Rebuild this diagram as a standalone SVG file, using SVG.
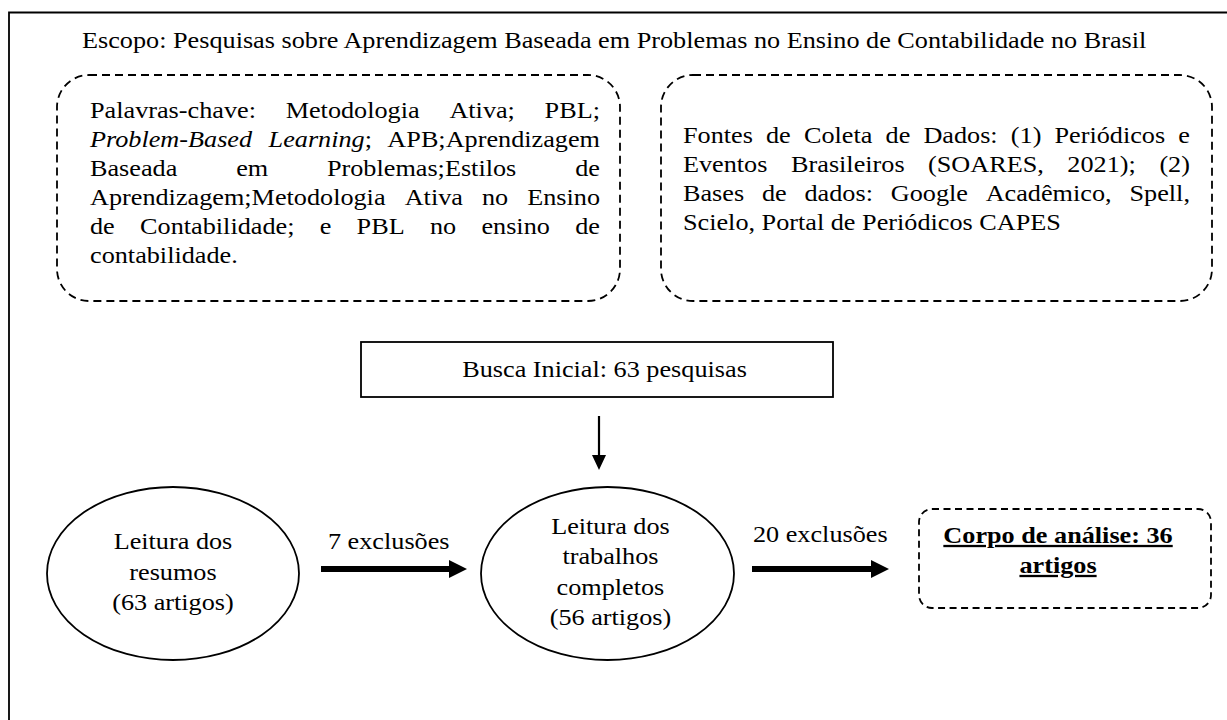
<svg xmlns="http://www.w3.org/2000/svg" width="1227" height="720" viewBox="0 0 1227 720">
<style>
.t{font-family:"Liberation Serif","Times New Roman",serif;font-size:23px;fill:#000}
.b{font-weight:bold;text-decoration:underline}
.dash{fill:none;stroke:#000;stroke-width:1.8;stroke-dasharray:8 5}
.dash2{fill:none;stroke:#000;stroke-width:1.8;stroke-dasharray:7 4.5}
.solid{fill:none;stroke:#000;stroke-width:1.8}
.arrow{fill:#000;stroke:none}
</style>
<rect x="0" y="0" width="1227" height="720" fill="#fff"/>
<g id="frame">
<path class="solid" d="M9 722 V12.5 H1229" stroke-width="2"/>
</g>
<g id="title">
<text class="t" transform="scale(1.14 1)" x="71.93" y="48">Escopo: Pesquisas sobre Aprendizagem Baseada em Problemas no Ensino de Contabilidade no Brasil</text>
</g>
<g id="keywords">
<rect class="dash" x="57" y="75" width="563" height="226" rx="32" ry="32"/>
<text class="t" transform="scale(1.14 1)"><tspan x="78.95" y="118">Palavras-chave:</tspan><tspan x="250.6" y="118">Metodologia</tspan><tspan x="394.2" y="118">Ativa;</tspan><tspan x="477.7" y="118">PBL;</tspan><tspan x="78.95" y="147" font-style="italic">Problem-Based</tspan><tspan x="235.6" y="147" font-style="italic">Learning</tspan><tspan font-style="normal">;</tspan><tspan x="339.8" y="147">APB;Aprendizagem</tspan><tspan x="78.95" y="176">Baseada</tspan><tspan x="207.2" y="176">em</tspan><tspan x="286.8" y="176">Problemas;Estilos</tspan><tspan x="504.6" y="176">de</tspan><tspan x="78.95" y="205">Aprendizagem;Metodologia</tspan><tspan x="355.0" y="205">Ativa</tspan><tspan x="422.8" y="205">no</tspan><tspan x="462.5" y="205">Ensino</tspan><tspan x="78.95" y="234">de</tspan><tspan x="122.9" y="234">Contabilidade;</tspan><tspan x="280.5" y="234">e</tspan><tspan x="312.8" y="234">PBL</tspan><tspan x="377.2" y="234">no</tspan><tspan x="422.3" y="234">ensino</tspan><tspan x="504.6" y="234">de</tspan><tspan x="78.95" y="263">contabilidade.</tspan></text>
</g>
<g id="sources">
<rect class="dash" x="661" y="75" width="551" height="226" rx="32" ry="32"/>
<text class="t" transform="scale(1.14 1)"><tspan x="599.1" y="143">Fontes</tspan><tspan x="671.9" y="143">de</tspan><tspan x="705.2" y="143">Coleta</tspan><tspan x="776.8" y="143">de</tspan><tspan x="810.0" y="143">Dados:</tspan><tspan x="886.7" y="143">(1)</tspan><tspan x="925.0" y="143">Periódicos</tspan><tspan x="1033.6" y="143">e</tspan><tspan x="599.1" y="172">Eventos</tspan><tspan x="693.9" y="172">Brasileiros</tspan><tspan x="814.1" y="172">(SOARES,</tspan><tspan x="936.3" y="172">2021);</tspan><tspan x="1017.0" y="172">(2)</tspan><tspan x="599.1" y="201">Bases</tspan><tspan x="668.4" y="201">de</tspan><tspan x="705.7" y="201">dados:</tspan><tspan x="781.4" y="201">Google</tspan><tspan x="864.6" y="201">Acadêmico,</tspan><tspan x="990.8" y="201">Spell,</tspan><tspan x="599.1" y="230">Scielo, Portal de Periódicos CAPES</tspan></text>
</g>
<g id="busca">
<rect class="solid" x="361" y="342" width="472" height="55" stroke-width="2"/>
<text class="t" transform="scale(1.14 1)" x="530.3" y="377" text-anchor="middle">Busca Inicial: 63 pesquisas</text>
</g>
<g id="leitura-resumos">
<ellipse class="solid" cx="173" cy="573.5" rx="126" ry="86.5"/>
<text class="t" transform="scale(1.14 1)" text-anchor="middle"><tspan x="151.75" y="549">Leitura dos</tspan><tspan x="151.75" y="580">resumos</tspan><tspan x="151.75" y="610">(63 artigos)</tspan></text>
</g>
<g id="leitura-completos">
<ellipse class="solid" cx="607.5" cy="573.5" rx="126.5" ry="86.5"/>
<text class="t" transform="scale(1.14 1)" text-anchor="middle"><tspan x="535.5" y="534">Leitura dos</tspan><tspan x="535.5" y="564">trabalhos</tspan><tspan x="535.5" y="595">completos</tspan><tspan x="535.5" y="625">(56 artigos)</tspan></text>
</g>
<g id="corpo">
<rect class="dash2" x="919" y="509" width="292" height="99" rx="13" ry="13"/>
<text class="t b" transform="scale(1.14 1)" text-anchor="middle"><tspan x="928.1" y="543">Corpo de análise: 36</tspan><tspan x="928.1" y="573">artigos</tspan></text>
</g>
<g id="connectors">
<line x1="599" y1="416" x2="599" y2="457" stroke="#000" stroke-width="2.2"/>
<polygon class="arrow" points="592,455 606,455 599,470"/>
<polygon class="arrow" points="321,566 449,566 449,560 467,569 449,578 449,572 321,572"/>
<text class="t" transform="scale(1.14 1)" x="287.7" y="549">7 exclusões</text>
<polygon class="arrow" points="752,566 871,566 871,560 889,569 871,578 871,572 752,572"/>
<text class="t" transform="scale(1.14 1)" x="660.5" y="542">20 exclusões</text>
</g>
</svg>
